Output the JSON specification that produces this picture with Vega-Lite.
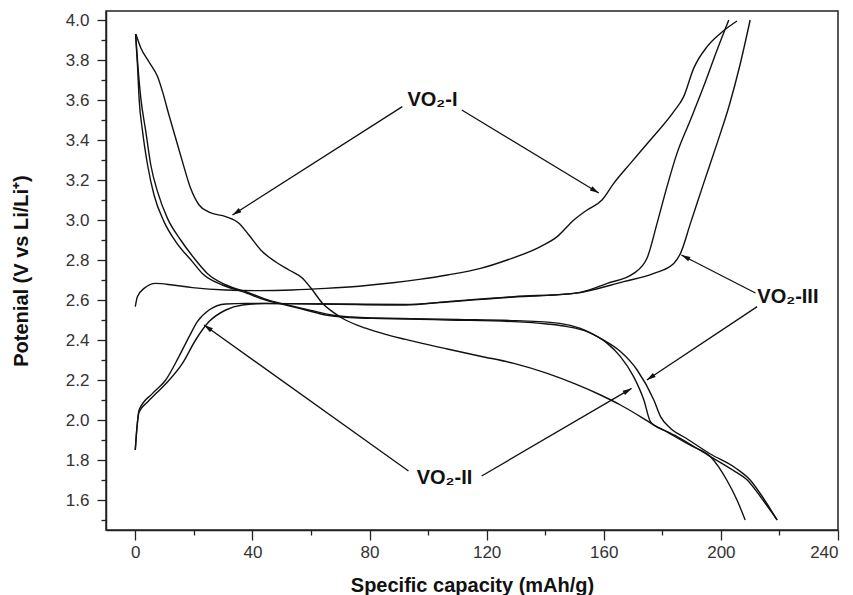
{
  "$schema": "https://vega.github.io/schema/vega-lite/v6.json",
  "width": 732,
  "height": 519,
  "autosize": "none",
  "padding": {"left": 106, "top": 11, "right": 15, "bottom": 65},
  "background": "white",
  "datasets": {
    "curves": [
      {"c":"A","i":1,"x":0.2,"y":3.93},{"c":"A","i":2,"x":1.9,"y":3.86},{"c":"A","i":3,"x":4.7,"y":3.79},{"c":"A","i":4,"x":7.6,"y":3.717},{"c":"A","i":5,"x":9.3,"y":3.642},{"c":"A","i":6,"x":11.5,"y":3.525},{"c":"A","i":7,"x":13.8,"y":3.409},{"c":"A","i":8,"x":16.1,"y":3.292},{"c":"A","i":9,"x":18.9,"y":3.159},{"c":"A","i":10,"x":21.8,"y":3.075},{"c":"A","i":11,"x":25.2,"y":3.039},{"c":"A","i":12,"x":30.9,"y":3.017},{"c":"A","i":13,"x":35.4,"y":2.984},{"c":"A","i":14,"x":38.8,"y":2.925},{"c":"A","i":15,"x":43.4,"y":2.842},{"c":"A","i":16,"x":48,"y":2.79},{"c":"A","i":17,"x":52.5,"y":2.75},{"c":"A","i":18,"x":57.1,"y":2.709},{"c":"A","i":19,"x":60.5,"y":2.65},{"c":"A","i":20,"x":63.9,"y":2.584},{"c":"A","i":21,"x":67.3,"y":2.542},{"c":"A","i":22,"x":71.8,"y":2.5},{"c":"A","i":23,"x":78.7,"y":2.459},{"c":"A","i":24,"x":85.5,"y":2.428},{"c":"A","i":25,"x":92.3,"y":2.403},{"c":"A","i":26,"x":98,"y":2.383},{"c":"A","i":27,"x":106.6,"y":2.355},{"c":"A","i":28,"x":117.9,"y":2.319},{"c":"A","i":29,"x":129.3,"y":2.283},{"c":"A","i":30,"x":140.7,"y":2.233},{"c":"A","i":31,"x":149.8,"y":2.183},{"c":"A","i":32,"x":158.9,"y":2.125},{"c":"A","i":33,"x":165.7,"y":2.075},{"c":"A","i":34,"x":172.5,"y":2.017},{"c":"A","i":35,"x":177.1,"y":1.975},{"c":"A","i":36,"x":185,"y":1.917},{"c":"A","i":37,"x":196.4,"y":1.817},{"c":"A","i":38,"x":204,"y":1.75},{"c":"A","i":39,"x":209,"y":1.7},{"c":"A","i":40,"x":213.5,"y":1.617},{"c":"A","i":41,"x":219.2,"y":1.5},
      {"c":"B","i":1,"x":0.1,"y":3.93},{"c":"B","i":2,"x":0.75,"y":3.775},{"c":"B","i":3,"x":1.3,"y":3.608},{"c":"B","i":4,"x":2.5,"y":3.442},{"c":"B","i":5,"x":4.2,"y":3.275},{"c":"B","i":6,"x":6.4,"y":3.125},{"c":"B","i":7,"x":9.8,"y":2.992},{"c":"B","i":8,"x":13.8,"y":2.892},{"c":"B","i":9,"x":19.5,"y":2.792},{"c":"B","i":10,"x":22.9,"y":2.733},{"c":"B","i":11,"x":29.8,"y":2.675},{"c":"B","i":12,"x":36.6,"y":2.642},{"c":"B","i":13,"x":44.5,"y":2.6},{"c":"B","i":14,"x":51.4,"y":2.575},{"c":"B","i":15,"x":58.2,"y":2.55},{"c":"B","i":16,"x":65,"y":2.525},{"c":"B","i":17,"x":71.8,"y":2.513},{"c":"B","i":18,"x":81,"y":2.508},{"c":"B","i":19,"x":92.3,"y":2.505},{"c":"B","i":20,"x":106.6,"y":2.5},{"c":"B","i":21,"x":129.3,"y":2.492},{"c":"B","i":22,"x":140.7,"y":2.48},{"c":"B","i":23,"x":147.5,"y":2.467},{"c":"B","i":24,"x":154.3,"y":2.442},{"c":"B","i":25,"x":161.2,"y":2.383},{"c":"B","i":26,"x":165.7,"y":2.317},{"c":"B","i":27,"x":170.2,"y":2.217},{"c":"B","i":28,"x":173.7,"y":2.1},{"c":"B","i":29,"x":176,"y":1.99},{"c":"B","i":30,"x":181,"y":1.945},{"c":"B","i":31,"x":190,"y":1.87},{"c":"B","i":32,"x":196.4,"y":1.817},{"c":"B","i":33,"x":202,"y":1.7},{"c":"B","i":34,"x":205.5,"y":1.6},{"c":"B","i":35,"x":208.3,"y":1.5},
      {"c":"C","i":1,"x":0.1,"y":3.93},{"c":"C","i":2,"x":1.0,"y":3.75},{"c":"C","i":3,"x":1.9,"y":3.608},{"c":"C","i":4,"x":3.6,"y":3.442},{"c":"C","i":5,"x":5.3,"y":3.275},{"c":"C","i":6,"x":7.6,"y":3.142},{"c":"C","i":7,"x":11,"y":3.008},{"c":"C","i":8,"x":15.5,"y":2.9},{"c":"C","i":9,"x":20.6,"y":2.8},{"c":"C","i":10,"x":24.6,"y":2.733},{"c":"C","i":11,"x":31,"y":2.675},{"c":"C","i":12,"x":38,"y":2.64},{"c":"C","i":13,"x":46,"y":2.597},{"c":"C","i":14,"x":53,"y":2.572},{"c":"C","i":15,"x":60,"y":2.548},{"c":"C","i":16,"x":67,"y":2.525},{"c":"C","i":17,"x":74,"y":2.515},{"c":"C","i":18,"x":83,"y":2.51},{"c":"C","i":19,"x":95,"y":2.507},{"c":"C","i":20,"x":110,"y":2.503},{"c":"C","i":21,"x":130,"y":2.497},{"c":"C","i":22,"x":145,"y":2.483},{"c":"C","i":23,"x":152,"y":2.458},{"c":"C","i":24,"x":158.9,"y":2.408},{"c":"C","i":25,"x":165.7,"y":2.342},{"c":"C","i":26,"x":171.4,"y":2.25},{"c":"C","i":27,"x":177.1,"y":2.1},{"c":"C","i":28,"x":179.4,"y":2.017},{"c":"C","i":29,"x":182.8,"y":1.958},{"c":"C","i":30,"x":188,"y":1.91},{"c":"C","i":31,"x":196.4,"y":1.83},{"c":"C","i":32,"x":205,"y":1.76},{"c":"C","i":33,"x":210,"y":1.7},{"c":"C","i":34,"x":214,"y":1.62},{"c":"C","i":35,"x":219.2,"y":1.5},
      {"c":"D","i":1,"x":0,"y":2.567},{"c":"D","i":2,"x":0.75,"y":2.617},{"c":"D","i":3,"x":3,"y":2.658},{"c":"D","i":4,"x":7,"y":2.683},{"c":"D","i":5,"x":12.7,"y":2.675},{"c":"D","i":6,"x":19.5,"y":2.662},{"c":"D","i":7,"x":30.9,"y":2.65},{"c":"D","i":8,"x":42.3,"y":2.647},{"c":"D","i":9,"x":53.6,"y":2.65},{"c":"D","i":10,"x":65,"y":2.658},{"c":"D","i":11,"x":76.4,"y":2.669},{"c":"D","i":12,"x":88,"y":2.686},{"c":"D","i":13,"x":97,"y":2.703},{"c":"D","i":14,"x":106.6,"y":2.725},{"c":"D","i":15,"x":117.9,"y":2.758},{"c":"D","i":16,"x":127,"y":2.8},{"c":"D","i":17,"x":138.4,"y":2.867},{"c":"D","i":18,"x":144.1,"y":2.917},{"c":"D","i":19,"x":149.8,"y":3.0},{"c":"D","i":20,"x":154.3,"y":3.05},{"c":"D","i":21,"x":159.4,"y":3.1},{"c":"D","i":22,"x":163.4,"y":3.183},{"c":"D","i":23,"x":169.1,"y":3.283},{"c":"D","i":24,"x":175.9,"y":3.4},{"c":"D","i":25,"x":183.9,"y":3.542},{"c":"D","i":26,"x":187.3,"y":3.617},{"c":"D","i":27,"x":190.7,"y":3.758},{"c":"D","i":28,"x":195.3,"y":3.867},{"c":"D","i":29,"x":199.8,"y":3.933},{"c":"D","i":30,"x":205.5,"y":3.995},
      {"c":"E","i":1,"x":0,"y":1.85},{"c":"E","i":2,"x":0.5,"y":1.95},{"c":"E","i":3,"x":1.3,"y":2.04},{"c":"E","i":4,"x":4.2,"y":2.09},{"c":"E","i":5,"x":7.6,"y":2.14},{"c":"E","i":6,"x":11,"y":2.19},{"c":"E","i":7,"x":16.1,"y":2.283},{"c":"E","i":8,"x":20.6,"y":2.4},{"c":"E","i":9,"x":25.2,"y":2.492},{"c":"E","i":10,"x":30.9,"y":2.55},{"c":"E","i":11,"x":36.6,"y":2.575},{"c":"E","i":12,"x":44.5,"y":2.583},{"c":"E","i":13,"x":65,"y":2.58},{"c":"E","i":14,"x":92.3,"y":2.578},{"c":"E","i":15,"x":106.6,"y":2.59},{"c":"E","i":16,"x":129.3,"y":2.615},{"c":"E","i":17,"x":140.7,"y":2.623},{"c":"E","i":18,"x":152,"y":2.638},{"c":"E","i":19,"x":161.2,"y":2.683},{"c":"E","i":20,"x":170.2,"y":2.733},{"c":"E","i":21,"x":174.8,"y":2.81},{"c":"E","i":22,"x":178.2,"y":2.983},{"c":"E","i":23,"x":181.6,"y":3.167},{"c":"E","i":24,"x":185,"y":3.333},{"c":"E","i":25,"x":189.6,"y":3.5},{"c":"E","i":26,"x":194.1,"y":3.667},{"c":"E","i":27,"x":198.7,"y":3.85},{"c":"E","i":28,"x":202.7,"y":4.0},
      {"c":"F","i":1,"x":0,"y":1.85},{"c":"F","i":2,"x":0.5,"y":1.95},{"c":"F","i":3,"x":1.3,"y":2.05},{"c":"F","i":4,"x":5.9,"y":2.133},{"c":"F","i":5,"x":10.4,"y":2.2},{"c":"F","i":6,"x":14.9,"y":2.317},{"c":"F","i":7,"x":18.4,"y":2.417},{"c":"F","i":8,"x":21.2,"y":2.492},{"c":"F","i":9,"x":25.2,"y":2.55},{"c":"F","i":10,"x":30.9,"y":2.58},{"c":"F","i":11,"x":37.7,"y":2.583},{"c":"F","i":12,"x":65,"y":2.58},{"c":"F","i":13,"x":92.3,"y":2.575},{"c":"F","i":14,"x":106.6,"y":2.592},{"c":"F","i":15,"x":129.3,"y":2.617},{"c":"F","i":16,"x":149.8,"y":2.633},{"c":"F","i":17,"x":166.8,"y":2.692},{"c":"F","i":18,"x":177.1,"y":2.733},{"c":"F","i":19,"x":183.9,"y":2.783},{"c":"F","i":20,"x":186.2,"y":2.833},{"c":"F","i":21,"x":189.6,"y":2.983},{"c":"F","i":22,"x":194.1,"y":3.183},{"c":"F","i":23,"x":198.7,"y":3.383},{"c":"F","i":24,"x":203,"y":3.58},{"c":"F","i":25,"x":206.6,"y":3.78},{"c":"F","i":26,"x":210,"y":4.0}
    ],
    "arrows": [
      {"x":91.2,"y":3.567,"x2":33.2,"y2":3.025,"angle":237.5},
      {"x":111.5,"y":3.55,"x2":158.3,"y2":3.135,"angle":121.3},
      {"x":211.8,"y":2.635,"x2":186.5,"y2":2.825,"angle":297.2},
      {"x":212.4,"y":2.567,"x2":174.7,"y2":2.2,"angle":236},
      {"x":118.3,"y":1.72,"x2":169.5,"y2":2.158,"angle":59.7},
      {"x":93.3,"y":1.745,"x2":23.5,"y2":2.475,"angle":305.5}
    ],
    "labels": [
      {"x":101.5,"y":3.6,"text":"VO₂-I"},
      {"x":222.9,"y":2.617,"text":"VO₂-III"},
      {"x":105.6,"y":1.71,"text":"VO₂-II"}
    ]
  },
  "resolve": {"axis": {"y": "independent"}},
  "layer": [
    {
      "data": {"name": "curves"},
      "mark": {"type": "line", "color": "#111", "strokeWidth": 1.4, "interpolate": "monotone", "clip": true},
      "encoding": {
        "x": {"field": "x", "type": "quantitative", "title": "Specific capacity (mAh/g)",
              "scale": {"domain": [-10, 240], "nice": false, "zero": false},
              "axis": {"values": [0,20,40,60,80,100,120,140,160,180,200,220,240],
                       "labelExpr": "datum.value % 40 === 0 ? datum.label : ''",
                       "labelOverlap": false,
                       "tickSize": {"condition": {"test": "datum.value % 40 === 0", "value": 10}, "value": 5},
                       "labelPadding": 4, "titleY": 55, "titleBaseline": "middle"}},
        "y": {"field": "y", "type": "quantitative", "title": "Potenial (V vs Li/Li⁺)",
              "scale": {"domain": [1.45, 4.045], "nice": false, "zero": false},
              "axis": {"orient": "left", "values": [1.6,1.8,2.0,2.2,2.4,2.6,2.8,3.0,3.2,3.4,3.6,3.8,4.0],
                       "format": ".1f", "labelOverlap": false, "tickSize": 9,
                       "labelPadding": 8, "titleX": -85, "titleBaseline": "middle"}},
        "detail": {"field": "c"},
        "order": {"field": "i", "type": "quantitative"}
      }
    },
    {
      "data": {"name": "arrows"},
      "mark": {"type": "rule", "color": "#111", "strokeWidth": 1.3},
      "encoding": {
        "x": {"field": "x", "type": "quantitative", "title": "Specific capacity (mAh/g)"},
        "y": {"field": "y", "type": "quantitative", "title": null,
              "axis": {"orient": "left", "values": [1.5,1.7,1.9,2.1,2.3,2.5,2.7,2.9,3.1,3.3,3.5,3.7,3.9],
                       "labels": false, "domain": false, "tickSize": 5}},
        "x2": {"field": "x2"},
        "y2": {"field": "y2"}
      }
    },
    {
      "data": {"name": "arrows"},
      "mark": {"type": "point", "shape": "M0,0L0.5,1.8L-0.5,1.8Z", "filled": true, "color": "#111", "size": 100, "opacity": 1},
      "encoding": {
        "x": {"field": "x2", "type": "quantitative", "title": "Specific capacity (mAh/g)"},
        "y": {"field": "y2", "type": "quantitative", "axis": null},
        "angle": {"field": "angle", "type": "quantitative", "scale": null}
      }
    },
    {
      "data": {"name": "labels"},
      "mark": {"type": "text", "font": "Liberation Sans", "fontWeight": "bold", "fontSize": 20, "color": "#111", "align": "center", "baseline": "middle"},
      "encoding": {
        "x": {"field": "x", "type": "quantitative", "title": "Specific capacity (mAh/g)"},
        "y": {"field": "y", "type": "quantitative", "axis": null},
        "text": {"field": "text"}
      }
    }
  ],
  "config": {
    "view": {"stroke": "#222", "strokeWidth": 1.5},
    "axis": {"grid": false, "domainColor": "#222", "domainWidth": 1.5, "tickColor": "#222", "tickWidth": 1.3,
             "labelFont": "Liberation Sans", "labelFontSize": 17, "labelColor": "#333",
             "titleFont": "Liberation Sans", "titleFontSize": 20, "titleFontWeight": "bold", "titleColor": "#111"}
  }
}
